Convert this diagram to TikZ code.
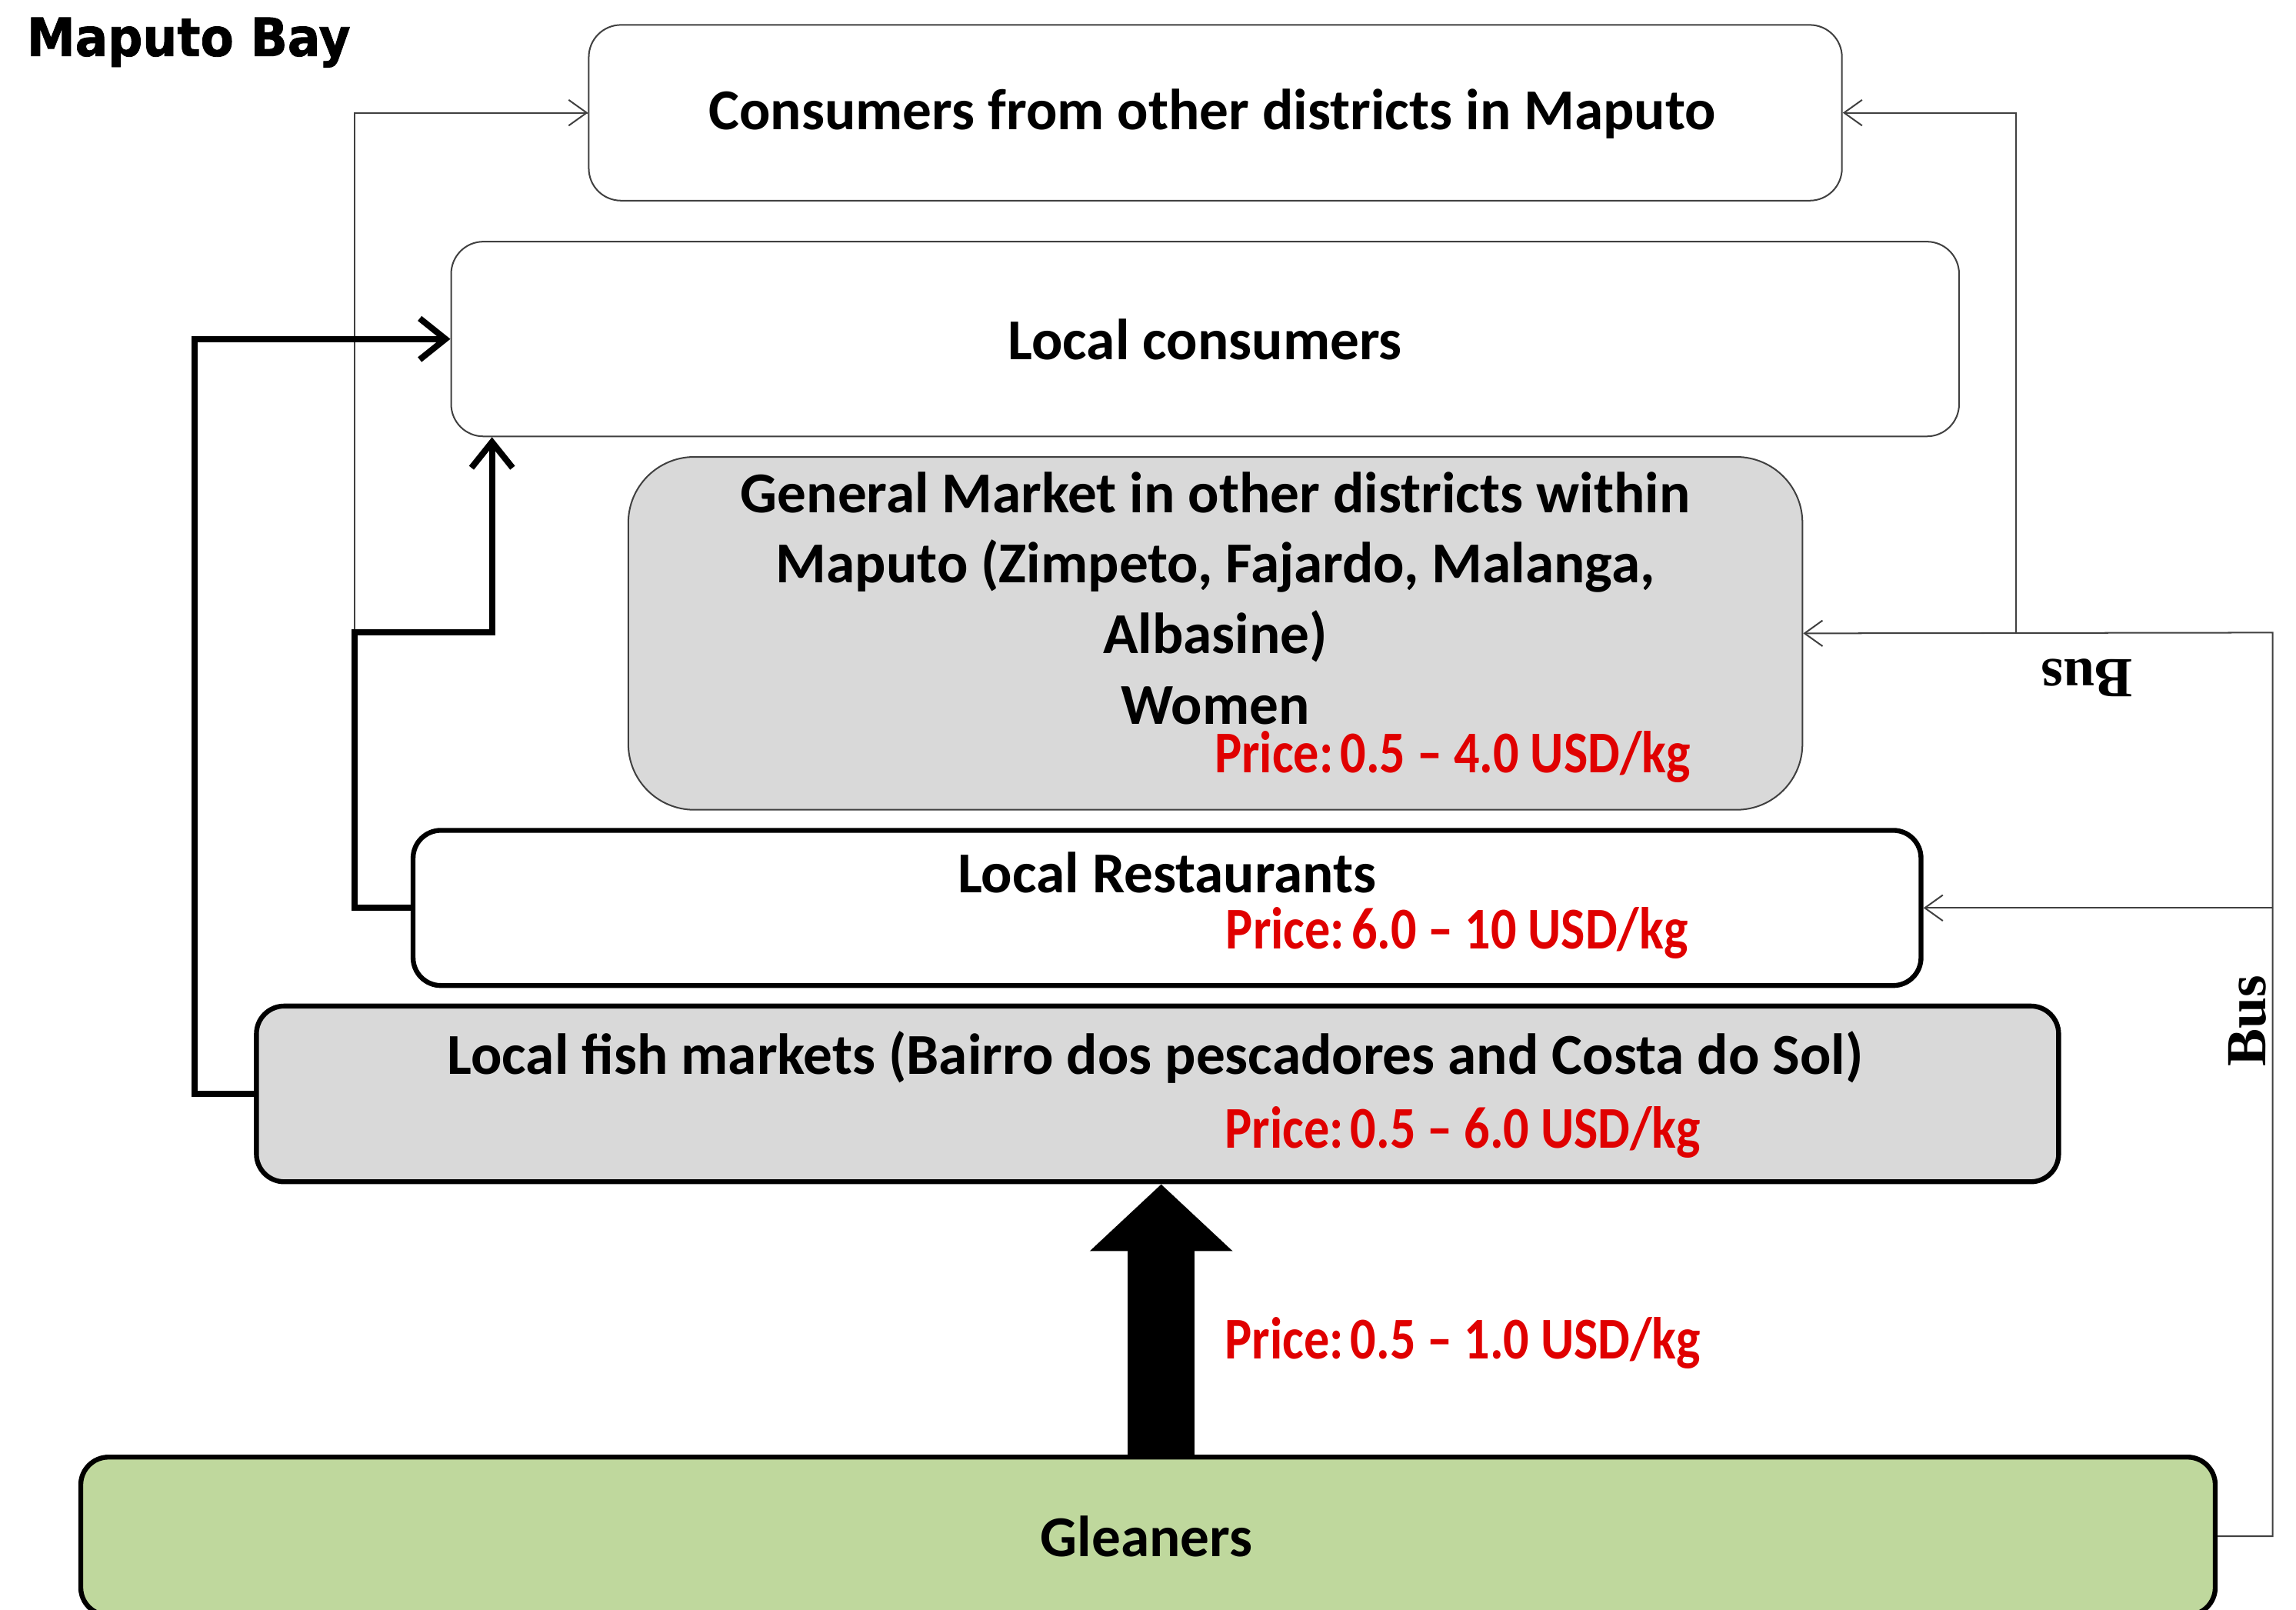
\documentclass[tikz,border=0pt]{standalone}
\usepackage{fontspec}
\setmainfont{Carlito}
\newfontfamily\pricefont{Carlito}[FakeStretch=0.86,Ligatures=TeX]
\newfontfamily\busfont{Liberation Serif}
\newfontfamily\titlefont{DejaVu Sans}[FakeStretch=0.92,FakeBold=1.2]
\usetikzlibrary{arrows.meta}
\definecolor{boxgray}{HTML}{D9D9D9}
\definecolor{gleangreen}{HTML}{BFD89D}
\definecolor{pricered}{HTML}{E00000}
\definecolor{thinline}{HTML}{404040}
\begin{document}
\begin{tikzpicture}[x=0.02cm,y=-0.02cm,
  box/.style={rectangle, inner sep=0pt},
  thinbox/.style={box, draw=thinline, line width=0.6pt, rounded corners=0.44cm},
  thickbox/.style={box, draw=black, line width=1.9pt, rounded corners=0.38cm},
  lbl/.style={font=\fontsize{22.5}{27.4}\selectfont\bfseries, align=center, inner sep=0pt},
  price/.style={font=\pricefont\fontsize{23}{26}\selectfont\bfseries, text=pricered, inner sep=0pt},
  busl/.style={font=\busfont\fontsize{22}{26}\selectfont\bfseries, inner sep=0pt},
  thinconn/.style={draw=thinline, line width=0.6pt, -{Straight Barb[length=7pt,width=10pt]}},
  thickconn/.style={draw=black, line width=2.4pt, -{Straight Barb[length=10pt,width=16pt]}},
  plainthin/.style={draw=thinline, line width=0.6pt}]
\useasboundingbox (0,0) rectangle (1568,1099);
\fill[white] (0,0) rectangle (1568,1099);

% title
\node[font=\titlefont\fontsize{20.5}{22}\selectfont\bfseries, anchor=west, inner sep=0pt] (title) at (18,29) {Maputo Bay};

% boxes
\node[thinbox, minimum width=17.12cm, minimum height=2.4cm, fill=white] (cons) at (830,77) {};
\node[lbl] (consT) at (828,78) {Consumers from other districts in Maputo};

\node[thinbox, minimum width=20.6cm, minimum height=2.66cm, fill=white] (loc) at (823,231.5) {};
\node[lbl] (locT) at (823,232) {Local consumers};

\node[thinbox, rounded corners=0.9cm, minimum width=16.04cm, minimum height=4.82cm, fill=boxgray] (gen) at (830,432.5) {};
\node[lbl] (genT) at (830,408.5) {General Market in other districts within\\Maputo (Zimpeto, Fajardo, Malanga,\\Albasine)\\Women};
\node[price] (genP) at (992,517) {Price:\hspace{0.12em}0.5 – 4.0 USD/kg};

\node[thickbox, minimum width=20.6cm, minimum height=2.12cm, fill=white] (rest) at (797,620) {};
\node[lbl] (restT) at (797,596) {Local Restaurants};
\node[price] (restP) at (995,637) {Price:\hspace{0.12em}6.0 – 10 USD/kg};

\node[thickbox, minimum width=24.62cm, minimum height=2.4cm, fill=boxgray] (fish) at (790.5,747) {};
\node[lbl] (fishT) at (789,722) {Local fish markets (Bairro dos pescadores and Costa do Sol)};
\node[price] (fishP) at (999,773) {Price:\hspace{0.12em}0.5 – 6.0 USD/kg};

\node[thickbox, minimum width=29.16cm, minimum height=2.16cm, fill=gleangreen] (glean) at (784,1049) {};
\node[lbl] (gleanT) at (783,1049) {Gleaners};

% block arrow gleaners -> fish markets
\coordinate (bx) at (793,0);
\draw[line width=26pt, -{Triangle[length=26pt,width=54pt]}] (glean.north -| bx) -- (fish.south -| bx);
\node[price] (gleanP) at (999,917) {Price:\hspace{0.12em}0.5 – 1.0 USD/kg};

% left connectors
\coordinate (j1) at (242,432);
\coordinate (j2) at (336,432);
\draw[plainthin] (j1) |- (cons.west);
\draw[thinconn] (j1 |- cons.west) -- (cons.west);
\draw[thickconn] (rest.west) -| (j1) -- (j2) -- (j2 |- loc.south);
\coordinate (j3) at (133,0);
\draw[thickconn] (fish.west) -| (j3 |- loc.west) -- (loc.west);

% right connectors
\coordinate (r1) at (1552,432);
\coordinate (r2) at (1552,620);
\coordinate (r3) at (1377,432);
\draw[thinconn] (glean.east) -| (r1) -- (gen.east);
\draw[thinconn] (r2) -- (rest.east);
\draw[thinconn] (r3) |- (cons.east);

% bus labels
\node[busl, rotate=180] (bus1) at (1425,463) {Bus};
\node[busl, rotate=90] (bus2) at (1535,697) {Bus};
\end{tikzpicture}
\end{document}
